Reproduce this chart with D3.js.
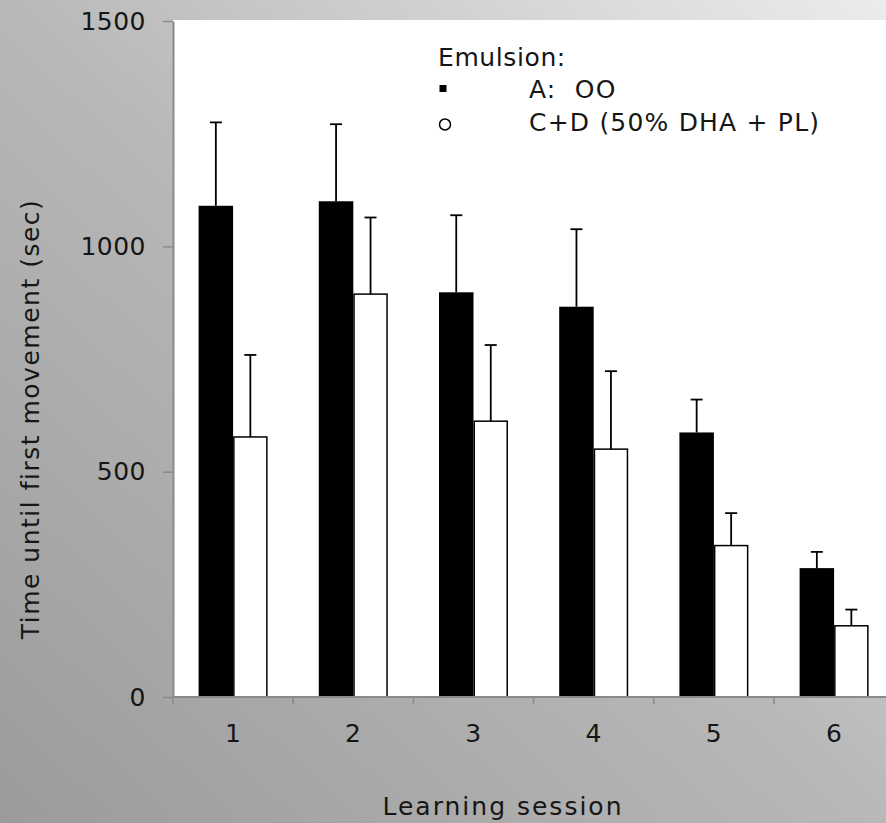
<html>
  <head>
    <title>Time until first movement</title>
    <script src="https://d3js.org/d3.v7.min.js"></script>
    <style>
      body {
        margin: 0;
        background-color: #b0b0b0;
      }
      svg text {
        font-family: "DejaVu Sans", Verdana, sans-serif;
        fill: #161616;
      }
    </style>
  </head>

  <body>
    <svg width="886" height="823"></svg>

    <script>
      // data
      var sessions = ['1', '2', '3', '4', '5', '6'];
      var groups = ['A', 'CD'];
      var groupLabels = ['A:  OO', 'C+D (50% DHA + PL)'];
      var meanA = [1090, 1100, 898, 866, 587, 286];
      var errA = [185, 171, 171, 172, 73, 36];
      var meanCD = [577, 894, 612, 550, 336, 158];
      var errCD = [182, 170, 169, 173, 72, 36];
      var yTicks = [0, 500, 1000, 1500];

      var svg = d3.select('svg');
      var width = 886, height = 823;
      var margin = {left: 173, top: 21, bottom: 697};

      // background gradient
      var defs = svg.append('defs');
      var grad = defs.append('linearGradient')
        .attr('id', 'bg')
        .attr('x1', 0).attr('y1', 1)
        .attr('x2', 1).attr('y2', 0);
      grad.append('stop').attr('offset', 0).attr('stop-color', '#9b9b9b');
      grad.append('stop').attr('offset', 0.5).attr('stop-color', '#b8b8b8');
      grad.append('stop').attr('offset', 1).attr('stop-color', '#ececec');

      svg.append('rect')
        .attr('width', width).attr('height', height)
        .attr('fill', 'url(#bg)');

      var step = 120.2;
      var x = d3.scaleBand()
        .domain(sessions)
        .range([margin.left, margin.left + step * sessions.length])
        .paddingInner(0.426)
        .paddingOuter(0.213);

      var xSub = d3.scaleBand()
        .domain(groups)
        .range([0, x.bandwidth()]);

      var y = d3.scaleLinear()
        .domain([0, 1500])
        .range([margin.bottom, margin.top]);

      // plot area
      svg.append('rect')
        .attr('x', margin.left)
        .attr('y', y(1500) - 1)
        .attr('width', width - margin.left)
        .attr('height', y(0) - y(1500) + 1)
        .attr('fill', 'white');

      var rows = sessions.map(function(s, i){
        return [
          {session: s, group: 'A', value: meanA[i], err: errA[i]},
          {session: s, group: 'CD', value: meanCD[i], err: errCD[i]}
        ];
      });
      var flat = d3.merge(rows);

      // bars
      svg.append('g').selectAll('rect')
        .data(flat)
        .enter().append('rect')
        .attr('x', function(d){ return x(d.session) + xSub(d.group) + (d.group === 'CD' ? 0.75 : 0); })
        .attr('y', function(d){ return y(d.value); })
        .attr('width', function(d){ return xSub.bandwidth() - (d.group === 'CD' ? 1.5 : 0); })
        .attr('height', function(d){ return y(0) - y(d.value); })
        .attr('fill', function(d){ return d.group === 'A' ? 'black' : 'white'; })
        .attr('stroke', 'black')
        .attr('stroke-width', function(d){ return d.group === 'A' ? 0 : 1.5; });

      // error bars (upper only)
      var eb = svg.append('g').selectAll('g')
        .data(flat)
        .enter().append('g')
        .attr('stroke', 'black')
        .attr('stroke-width', 1.8);

      var cx = function(d){ return x(d.session) + xSub(d.group) + xSub.bandwidth() / 2; };

      eb.append('line')
        .attr('x1', cx).attr('x2', cx)
        .attr('y1', function(d){ return y(d.value); })
        .attr('y2', function(d){ return y(d.value + d.err); });

      eb.append('line')
        .attr('x1', function(d){ return cx(d) - 6; })
        .attr('x2', function(d){ return cx(d) + 6; })
        .attr('y1', function(d){ return y(d.value + d.err); })
        .attr('y2', function(d){ return y(d.value + d.err); });

      // axes
      var yAxis = svg.append('g')
        .attr('transform', 'translate(' + margin.left + ',0)')
        .call(d3.axisLeft(y).tickValues(yTicks).tickSize(10).tickSizeOuter(0)
          .tickPadding(17).tickFormat(d3.format('d')));

      var xAxis = svg.append('g')
        .attr('transform', 'translate(0,' + y(0) + ')')
        .call(d3.axisBottom(x).tickSize(0).tickPadding(27));

      // category boundary ticks
      svg.append('g').selectAll('line')
        .data(d3.range(sessions.length + 1))
        .enter().append('line')
        .attr('x1', function(i){ return margin.left + i * step; })
        .attr('x2', function(i){ return margin.left + i * step; })
        .attr('y1', y(0))
        .attr('y2', y(0) + 7)
        .attr('stroke', '#8a8a8a')
        .attr('stroke-width', 1.5);

      svg.selectAll('.domain')
        .attr('stroke', '#8a8a8a')
        .attr('stroke-width', 2);
      yAxis.selectAll('.tick line')
        .attr('stroke', '#8a8a8a')
        .attr('stroke-width', 1.5);
      svg.selectAll('.tick text')
        .style('font-size', '25px')
        .style('letter-spacing', '0.5px')
        .style('font-family', '"DejaVu Sans", Verdana, sans-serif')
        .attr('fill', '#161616');

      // x axis domain to right edge
      xAxis.select('.domain')
        .attr('d', 'M' + margin.left + ',0H' + width);

      // axis titles
      svg.append('text')
        .attr('transform', 'translate(39,' + 419 + ') rotate(-90)')
        .attr('text-anchor', 'middle')
        .style('font-size', '25px')
        .style('letter-spacing', '1.5px')
        .text('Time until first movement (sec)');

      svg.append('text')
        .attr('x', 503)
        .attr('y', 815)
        .attr('text-anchor', 'middle')
        .style('font-size', '25px')
        .style('letter-spacing', '2px')
        .text('Learning session');

      // legend
      var legend = svg.append('g');
      legend.append('text')
        .attr('x', 438).attr('y', 66)
        .style('font-size', '25px')
        .style('letter-spacing', '0.6px')
        .text('Emulsion:');

      var lg = legend.selectAll('g')
        .data(groups)
        .enter().append('g')
        .attr('transform', function(d, i){ return 'translate(0,' + (i * 33) + ')'; });

      lg.append('text')
        .attr('x', 529).attr('y', 98)
        .style('font-size', '25px')
        .style('letter-spacing', '1.2px')
        .style('white-space', 'pre')
        .text(function(d, i){ return groupLabels[i]; });

      lg.filter(function(d){ return d === 'A'; })
        .append('rect')
        .attr('x', 439.5).attr('y', 85)
        .attr('width', 7).attr('height', 7)
        .attr('fill', 'black');

      lg.filter(function(d){ return d === 'CD'; })
        .append('circle')
        .attr('cx', 445).attr('cy', 91.5)
        .attr('r', 5.5)
        .attr('fill', 'none')
        .attr('stroke', 'black')
        .attr('stroke-width', 1.5);
    </script>
  </body>
</html>
